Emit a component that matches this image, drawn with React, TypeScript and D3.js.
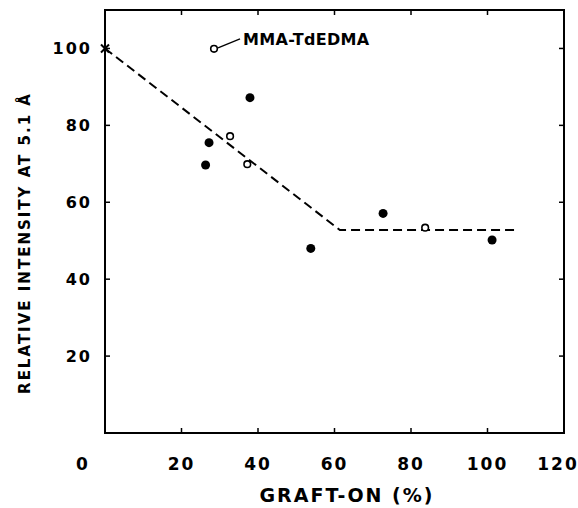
import React from "react";
import * as d3 from "d3";

const xTicks = [0, 20, 40, 60, 80, 100, 120];
const yTicks = [20, 40, 60, 80, 100];
// filled circles
const filledX = [26.3, 27.2, 37.9, 53.8, 72.7, 101.2];
const filledY = [69.7, 75.5, 87.2, 48.0, 57.1, 50.2];
// open circles
const openX = [28.5, 32.7, 37.2, 83.7];
const openY = [99.9, 77.2, 69.9, 53.4];
// cross (pure polymer)
const crossX = [0];
const crossY = [100];
// dashed trend line
const lineX = [0, 61.4, 107.2];
const lineY = [100, 52.8, 52.8];
const annotation = "MMA-TdEDMA";
const annotIndex = 0;
const xTitle = "GRAFT-ON (%)";
const yTitle = "RELATIVE INTENSITY AT 5.1 Å";

const W = 578;
const H = 508;
const L = 105, R = 564, T = 10, B = 433;
const FONT = "'DejaVu Sans', sans-serif";

export default function App() {
  const x = d3.scaleLinear().domain([0, 120]).range([L, R]);
  const y = d3.scaleLinear().domain([0, 110]).range([B, T]);
  const line = d3
    .line<number>()
    .x((_, i) => x(lineX[i]))
    .y((_, i) => y(lineY[i]));
  const tickLen = 5;
  const ox = x(openX[annotIndex]);
  const oy = y(openY[annotIndex]);
  return (
    <svg
      width={W}
      height={H}
      style={{ position: "absolute", left: 0, top: 0, background: "#fff" }}
    >
      <rect x={0} y={0} width={W} height={H} fill="#fff" />
      {/* frame */}
      <rect x={L} y={T} width={R - L} height={B - T} fill="none" stroke="#000" strokeWidth={2} />
      {/* x ticks (bottom & top, inward) */}
      {xTicks.slice(1, -1).map((t) => (
        <g key={"xt" + t}>
          <line x1={x(t)} x2={x(t)} y1={B} y2={B - tickLen} stroke="#000" strokeWidth={1.5} />
          <line x1={x(t)} x2={x(t)} y1={T} y2={T + tickLen} stroke="#000" strokeWidth={1.5} />
        </g>
      ))}
      {yTicks.map((t) => (
        <g key={"yt" + t}>
          <line x1={L} x2={L + tickLen} y1={y(t)} y2={y(t)} stroke="#000" strokeWidth={1.5} />
          <line x1={R} x2={R - tickLen} y1={y(t)} y2={y(t)} stroke="#000" strokeWidth={1.5} />
        </g>
      ))}
      {/* x tick labels */}
      {xTicks.map((t, i) => (
        <text
          key={"xl" + t}
          x={x(t) + (i === 0 ? -22 : i === xTicks.length - 1 ? -6 : 0)}
          y={B + 37}
          textAnchor="middle"
          fontFamily={FONT}
          fontWeight="bold"
          fontSize={17}
          letterSpacing={2}
        >
          {t}
        </text>
      ))}
      {/* y tick labels */}
      {yTicks.map((t) => (
        <text
          key={"yl" + t}
          x={L - 13}
          y={y(t)}
          dy="0.36em"
          textAnchor="end"
          fontFamily={FONT}
          fontWeight="bold"
          fontSize={16}
          letterSpacing={2}
        >
          {t}
        </text>
      ))}
      {/* titles */}
      <text
        x={347}
        y={502}
        textAnchor="middle"
        fontFamily={FONT}
        fontWeight="bold"
        fontSize={19}
        letterSpacing={2}
      >
        {xTitle}
      </text>
      <text
        transform={`translate(30,243) rotate(-90)`}
        textAnchor="middle"
        fontFamily={FONT}
        fontWeight="bold"
        fontSize={15}
        letterSpacing={2}
      >
        {yTitle}
      </text>
      {/* dashed line */}
      <path
        d={line(lineX) || ""}
        fill="none"
        stroke="#000"
        strokeWidth={2}
        strokeDasharray="9,5"
      />
      {/* filled points */}
      {filledX.map((v, i) => (
        <circle key={"f" + i} cx={x(v)} cy={y(filledY[i])} r={4.5} fill="#000" />
      ))}
      {/* open points */}
      {openX.map((v, i) => (
        <circle
          key={"o" + i}
          cx={x(v)}
          cy={y(openY[i])}
          r={3.3}
          fill="#fff"
          stroke="#000"
          strokeWidth={1.6}
        />
      ))}
      {/* cross */}
      {crossX.map((v, i) => {
        const cx = x(v);
        const cy = y(crossY[i]);
        const s = 4;
        return (
          <g key={"c" + i} stroke="#000" strokeWidth={2}>
            <line x1={cx - s} y1={cy - s} x2={cx + s} y2={cy + s} />
            <line x1={cx - s} y1={cy + s} x2={cx + s} y2={cy - s} />
          </g>
        );
      })}
      {/* annotation */}
      <line x1={ox + 4} y1={oy - 1} x2={ox + 26} y2={oy - 10} stroke="#000" strokeWidth={1.3} />
      <text
        x={ox + 29}
        y={oy - 4}
        fontFamily={FONT}
        fontWeight="bold"
        fontSize={16}
        letterSpacing={0.3}
      >
        {annotation}
      </text>
    </svg>
  );
}
